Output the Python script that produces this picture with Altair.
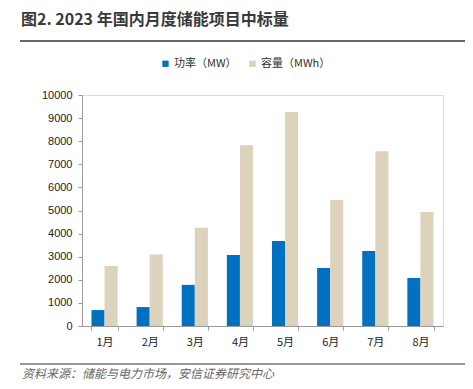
import altair as alt
import pandas as pd

months = ["1月", "2月", "3月", "4月", "5月", "6月", "7月", "8月"]
power_mw = [690, 820, 1780, 3070, 3680, 2510, 3250, 2080]
capacity_mwh = [2600, 3100, 4250, 7830, 9260, 5450, 7560, 4930]
series_names = ["功率（MW）", "容量（MWh）"]
series_colors = ["#0070C0", "#DDD3BD"]
y_ticks = list(range(0, 10001, 1000))

title_text = "图2. 2023 年国内月度储能项目中标量"
source_text = "资料来源：储能与电力市场，安信证券研究中心"

rows = []
for m, p, c in zip(months, power_mw, capacity_mwh):
    rows.append({"month": m, "series": series_names[0], "value": p})
    rows.append({"month": m, "series": series_names[1], "value": c})
df = pd.DataFrame(rows)

W, H = 361, 231
FONT = "Liberation Sans"
CJK = "Noto Sans CJK SC"

bars = alt.Chart(df).mark_bar().encode(
    x=alt.X("month:N", sort=months, title=None,
            scale=alt.Scale(paddingInner=0.42, paddingOuter=0.21),
            axis=alt.Axis(labelAngle=0, labelFont=CJK, labelFontSize=11, labelColor="#222",
                          tickBand="extent", tickSize=4, tickColor="#999", domainColor="#999",
                          labelPadding=6)),
    xOffset=alt.XOffset("series:N", sort=series_names, scale=alt.Scale(paddingInner=0, paddingOuter=0)),
    y=alt.Y("value:Q", title=None,
            scale=alt.Scale(domain=[0, 10000], nice=False),
            axis=alt.Axis(values=y_ticks, format="d", grid=False, labelFont=FONT, labelFontSize=11,
                          labelColor="#222", tickSize=4, tickColor="#999", domainColor="#999",
                          labelPadding=6)),
    color=alt.Color("series:N", sort=series_names,
                    scale=alt.Scale(domain=series_names, range=series_colors),
                    legend=alt.Legend(title=None, orient="none", legendX=78, legendY=-37,
                                      direction="horizontal", symbolType="square", symbolSize=40,
                                      symbolStrokeWidth=0, labelFont=CJK, labelFontSize=11,
                                      labelColor="#333", columnPadding=10, symbolOffset=0,
                                      labelOffset=3)),
)

one = pd.DataFrame({"a": [0]})

title = alt.Chart(one).mark_text(
    text=title_text, align="left", baseline="middle", font=CJK, fontSize=16,
    fontWeight="bold", color="#3a3a3a"
).encode(x=alt.value(-61), y=alt.value(-75))

top_rule = alt.Chart(one).mark_rule(color="#333", strokeWidth=1.5).encode(
    x=alt.value(-62), x2=alt.value(391), y=alt.value(-54))

bottom_rule = alt.Chart(one).mark_rule(color="#333", strokeWidth=1.2).encode(
    x=alt.value(-62), x2=alt.value(391), y=alt.value(269))

source = alt.Chart(one).mark_text(
    text=source_text, align="left", baseline="middle", font=CJK, fontSize=12,
    fontStyle="italic", color="#666"
).encode(x=alt.value(-60), y=alt.value(279))

chart = alt.layer(bars, title, top_rule, bottom_rule, source).properties(
    width=W, height=H,
    autosize=alt.AutoSizeParams(type="none"),
    padding={"left": 74, "top": 87, "right": 22, "bottom": 55},
).configure_view(stroke=None).configure(background="white")

chart.save("out.html", embed_options={"renderer": "svg", "actions": False})
